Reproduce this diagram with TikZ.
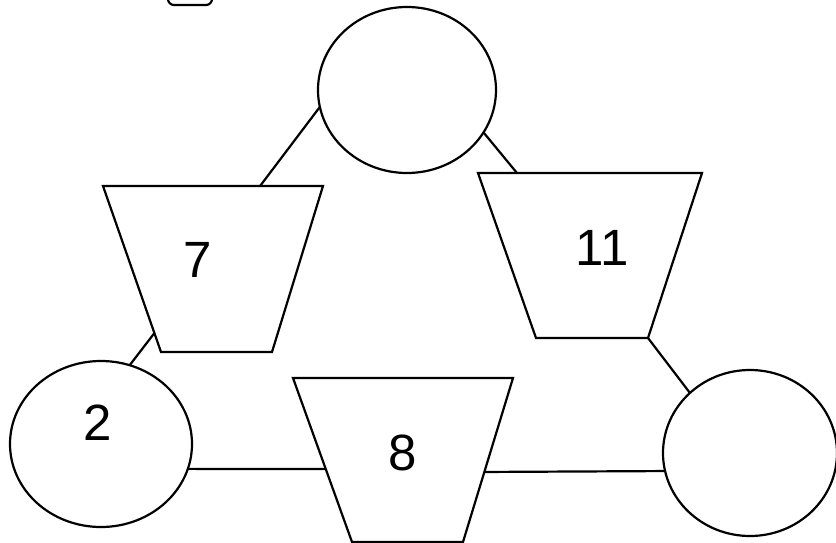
\documentclass[tikz,border=0pt]{standalone}
\usepackage{fontspec}
\setmainfont{Liberation Sans}
\usetikzlibrary{shapes.geometric,calc}
\tikzset{
  ln/.style={line width=2.2pt},
  oval/.style={ellipse, draw, ln, inner sep=0pt, outer sep=0pt},
  cup/.style={draw, ln, line join=miter},
  num/.style={font=\fontsize{51}{60}\selectfont, inner sep=0pt},
  conn/.style={ln}
}
\begin{document}
\begin{tikzpicture}[x=1pt,y=-1pt]
\useasboundingbox (0,0) rectangle (836,543);
% fragment of a box at the top edge
\node[draw, ln, rounded corners=6pt, minimum width=44pt, minimum height=44pt] (box) at (190,-17) {};
% circles
\node[oval, minimum width=178pt, minimum height=166pt] (top) at (407,90) {};
\node[oval, minimum width=182pt, minimum height=166pt] (left) at (101,444) {};
\node[oval, minimum width=174pt, minimum height=166pt] (right) at (750,453) {};
% trapezia corners
\coordinate (t7tl) at (103,186); \coordinate (t7tr) at (323,186);
\coordinate (t7br) at (272,352); \coordinate (t7bl) at (161,352);
\coordinate (t11tl) at (478,173); \coordinate (t11tr) at (702,173);
\coordinate (t11br) at (648,338); \coordinate (t11bl) at (536,338);
\coordinate (t8tl) at (293,378); \coordinate (t8tr) at (513,378);
\coordinate (t8br) at (463,542); \coordinate (t8bl) at (352,542);
\draw[cup] (t7tl) -- (t7tr) -- (t7br) -- (t7bl) -- cycle;
\draw[cup] (t11tl) -- (t11tr) -- (t11br) -- (t11bl) -- cycle;
\draw[cup] (t8tl) -- (t8tr) -- (t8br) -- (t8bl) -- cycle;
% connector ends on the trapezia
\coordinate (t7a) at ($(t7tl)!0.714!(t7tr)$);
\coordinate (t7b) at ($(t7tl)!0.886!(t7bl)$);
\coordinate (t11a) at ($(t11tl)!0.174!(t11tr)$);
\coordinate (t8a) at ($(t8tl)!0.555!(t8bl)$);
\coordinate (t8b) at ($(t8tr)!0.573!(t8br)$);
% numbers
\node[num] (n7) at (198,260) {7};
\node[num] (n11) at (602,248) {11};
\node[num] (n8) at (403,453) {8};
\node[num] (n2) at (98,423) {2};
% connectors
\draw[conn] (top.191.4) -- (t7a);
\draw[conn] (top.331.7) -- (t11a);
\draw[conn] (t7b) -- (left.70.3);
\draw[conn] (left.344) -- (t8a);
\draw[conn] (t8b) -- (right.192.3);
\draw[conn] (t11br) -- (right.135.9);
\end{tikzpicture}
\end{document}
